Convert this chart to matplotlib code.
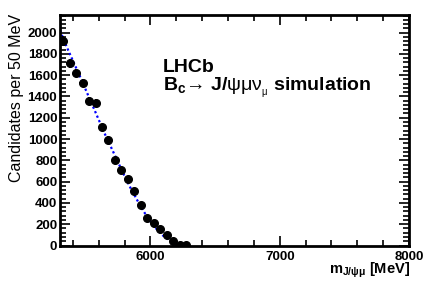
import numpy as np
import matplotlib
matplotlib.use("Agg")
import matplotlib.pyplot as plt
from matplotlib.ticker import MultipleLocator

plt.rcParams['font.family'] = ['Liberation Sans', 'DejaVu Sans']
plt.rcParams['mathtext.fontset'] = 'custom'
plt.rcParams['mathtext.rm'] = 'Liberation Sans'
plt.rcParams['mathtext.it'] = 'Liberation Sans'
plt.rcParams['mathtext.bf'] = 'Liberation Sans:bold'

# simulated candidates, 50 MeV bins
mass = [5325, 5375, 5425, 5475, 5525, 5575, 5625, 5675, 5725, 5775,
        5825, 5875, 5925, 5975, 6025, 6075, 6125, 6175, 6225, 6275]
counts = [1925, 1712, 1620, 1525, 1358, 1335, 1112, 995, 800, 708,
          620, 510, 378, 260, 212, 158, 98, 38, 8, 3]

# fitted shape
fit_mass = [5300, 5350, 5400, 5450, 5500, 5550, 5600, 5650, 5700, 5750,
            5800, 5850, 5900, 5950, 6000, 6050, 6100, 6150, 6200, 6250]
fit_vals = [2020, 1870, 1735, 1600, 1460, 1320, 1180, 1040, 910, 780,
            650, 530, 420, 315, 225, 150, 90, 45, 12, 0]

fig = plt.figure(figsize=(4.32, 2.93), dpi=100)
ax = fig.add_axes([60/432, 1-245.5/293, 349/432, 230.5/293])

ax.plot(fit_mass, fit_vals, color="blue", ls=(0, (1, 1.2)), lw=1.6, zorder=2)
ax.errorbar(mass, counts, yerr=np.sqrt(counts), xerr=25, fmt="o", color="black",
            ms=5.5, elinewidth=1.5, capsize=0, zorder=3)

ax.set_xlim(5300, 8000)
ax.set_ylim(0, 2165)
ax.xaxis.set_major_locator(MultipleLocator(1000))
ax.xaxis.set_minor_locator(MultipleLocator(200))
ax.yaxis.set_major_locator(MultipleLocator(200))
ax.yaxis.set_minor_locator(MultipleLocator(40))
ax.tick_params(which="both", direction="in", top=True, right=True, width=1.2)
ax.tick_params(which="major", length=7, labelsize=9.5, pad=2)
ax.tick_params(which="minor", length=4)
ax.tick_params(axis="x", pad=4)
for lab in ax.get_xticklabels() + ax.get_yticklabels():
    lab.set_fontweight("bold")
for sp in ax.spines.values():
    sp.set_linewidth(2)

ax.set_ylabel("Candidates per 50 MeV", fontsize=11.5)
ax.yaxis.set_label_coords(-0.103, 0.64)
fig.text(410/432, 1-274/293, r"m$_{\mathregular{J/\psi\mu}}$ [MeV]", ha="right",
         va="baseline", fontsize=10.5, fontweight="bold")

ax.text(163/432, 1-72/293, "LHCb", transform=fig.transFigure, fontsize=14,
        fontweight="bold", va="baseline")
ax.text(163/432, 1-91/293, r"B$_{\mathbf{c}}$→ J/$\psi\mu\nu_{_{\mu}}$ simulation",
        transform=fig.transFigure, fontsize=14, fontweight="bold", va="baseline")

fig.savefig("out.png", dpi=100)
